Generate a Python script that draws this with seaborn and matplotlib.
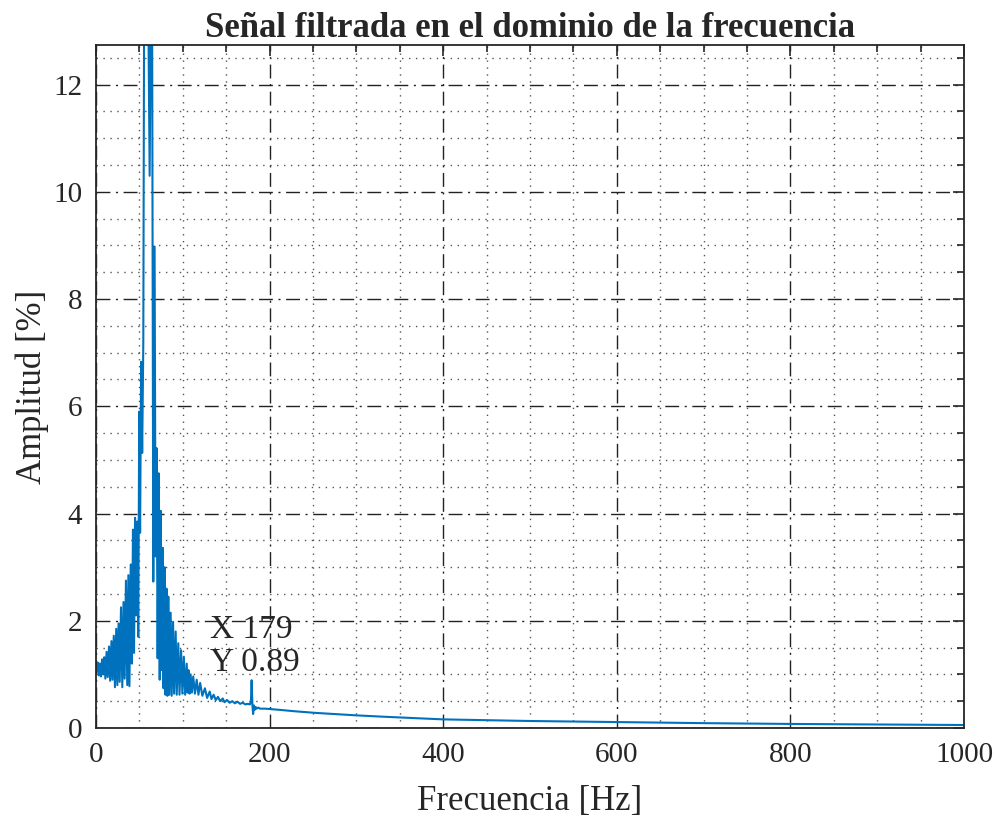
import numpy as np
import pandas as pd
import matplotlib
matplotlib.use("Agg")
import matplotlib.pyplot as plt
from matplotlib.ticker import MultipleLocator
import seaborn as sns

# Espectro (Hz, %)
frecuencia = [
    0.0, 1.0, 2.0, 3.3, 4.5, 5.8, 7.0, 8.3, 9.5, 10.8, 12.2, 13.5, 15.0, 16.3,
    17.8, 19.0, 20.5, 21.8, 23.3, 24.6, 26.0, 27.3, 28.8, 30.3, 31.7, 33.0,
    34.5, 36.0, 37.3, 38.5, 40.0, 41.3, 42.6, 43.8, 45.0, 46.2, 47.5, 48.7,
    49.8, 50.8, 52.0, 53.2, 54.5, 55.8, 58.0, 61.8, 64.3, 66.0, 67.5, 68.6,
    69.8, 71.0, 72.3, 73.4, 74.6, 75.8, 77.0, 77.8, 79.0, 80.0, 81.2, 82.2,
    83.3, 84.5, 86.0, 87.2, 88.8, 90.0, 91.8, 93.0, 94.8, 96.2, 98.0, 99.5,
    101.2, 102.7, 104.5, 105.5, 106.5, 107.8, 109.0, 110.5, 112.0, 114.0,
    116.0, 118.0, 120.0, 122.5, 125.5, 128.0, 131.0, 133.0, 135.5, 138.0,
    140.5, 143.0, 146.0, 148.0, 151.0, 154.0, 157.0, 160.0, 163.0, 166.0,
    169.0, 172.0, 175.0, 177.5, 178.5, 179.3, 180.2, 181.0, 182.0, 183.0,
    184.0, 185.0, 187.0, 189.0, 195.0, 210.0, 230.0, 254.0, 300.0, 331.0,
    400.0, 500.0, 600.0, 700.0, 800.0, 900.0, 1000.0,
]
amplitud = [
    1.15, 1.05, 1.22, 0.98, 1.20, 0.96, 1.28, 1.00, 1.32, 0.92, 1.42, 0.95, 1.52, 0.88,
    1.62, 0.90, 1.72, 0.76, 1.85, 0.80, 1.95, 0.86, 2.25, 0.76, 2.35, 0.92,
    2.75, 0.80, 2.85, 0.78, 3.05, 1.20, 3.70, 1.40, 3.92, 2.10, 3.85, 1.70,
    5.90, 3.64, 6.83, 5.13, 7.20, 16.0, 18.0, 10.3, 16.0, 2.73, 8.98, 3.20,
    5.22, 1.30, 4.75, 0.90, 4.05, 1.08, 3.36, 0.74, 3.00, 0.62, 2.60, 0.60,
    2.45, 0.62, 2.15, 0.60, 1.98, 0.64, 1.80, 0.62, 1.58, 0.62, 1.45, 0.64,
    1.33, 0.62, 1.20, 0.66, 1.08, 0.64, 1.00, 0.66, 0.96, 0.64,
    0.90, 0.62, 0.84, 0.60, 0.74, 0.56, 0.68, 0.54, 0.62, 0.52,
    0.58, 0.50, 0.55, 0.48, 0.52, 0.47, 0.50, 0.46, 0.49, 0.45,
    0.47, 0.44, 0.45, 0.44, 0.50, 0.89, 0.42, 0.26, 0.42, 0.34,
    0.39, 0.36, 0.38, 0.36, 0.36, 0.34, 0.31, 0.28, 0.235, 0.21,
    0.16, 0.13, 0.11, 0.09, 0.075, 0.065, 0.055,
]

df = pd.DataFrame({"frecuencia": frecuencia, "amplitud": amplitud})

sns.set_style("white")
plt.rcParams["font.family"] = ["Liberation Serif", "DejaVu Serif"]

fig = plt.figure(figsize=(10, 8.22), dpi=100)
ax = fig.add_axes([0.096, 0.1144, 0.868, 0.8309])

sns.lineplot(data=df, x="frecuencia", y="amplitud", ax=ax, color="#0072BD",
             linewidth=1.5, estimator=None)

ax.set_xlim(0, 1000)
ax.set_ylim(0, 12.74)
ax.xaxis.set_major_locator(MultipleLocator(200))
ax.xaxis.set_minor_locator(MultipleLocator(50))
ax.yaxis.set_major_locator(MultipleLocator(2))
ax.yaxis.set_minor_locator(MultipleLocator(0.5))

ax.grid(which="major", linestyle=(0, (10, 4, 1.5, 4)), color="#222222", linewidth=1.0)
ax.grid(which="minor", linestyle=(0, (1, 4)), color="#555555", linewidth=1.0)
ax.set_axisbelow(True)

ax.tick_params(which="both", direction="in", top=True, right=True,
               labelsize=21, colors="#262626", width=1.2)
ax.tick_params(which="major", length=8, pad=10)
ax.tick_params(which="minor", length=5)
for s in ax.spines.values():
    s.set_color("#262626")
    s.set_linewidth(1.3)

ax.set_title("Señal filtrada en el dominio de la frecuencia",
             fontsize=25, fontweight="bold", pad=6)
ax.set_xlabel("Frecuencia [Hz]", fontsize=25, color="#262626", labelpad=12)
ax.set_ylabel("Amplitud [%]", fontsize=25, color="#262626", labelpad=3)

ax.text(131, 0.93, "X 179\nY 0.89", fontsize=24, ha="left", va="bottom",
        linespacing=1.1)

fig.savefig("out.png", dpi=100)
